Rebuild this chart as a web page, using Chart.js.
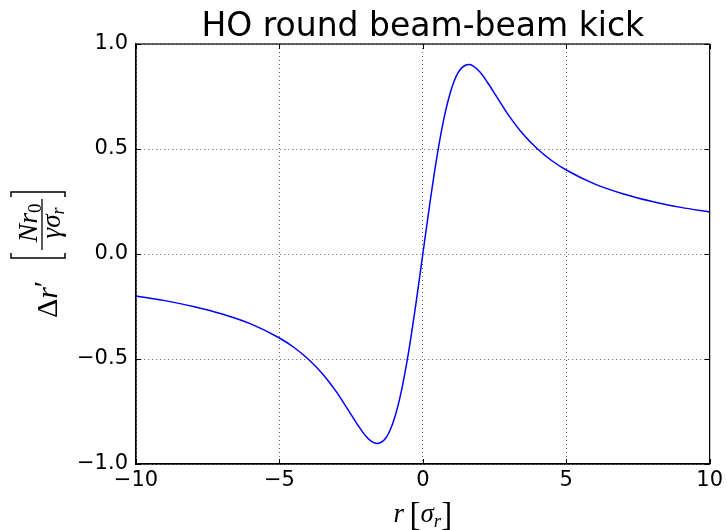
<!DOCTYPE html>
<html>
<head>
<meta charset="utf-8">
<title>HO round beam-beam kick</title>
<script src="https://cdn.jsdelivr.net/npm/chart.js@4"></script>
<style>
  html, body { margin: 0; padding: 0; background: #fff; }
  canvas { display: block; }
</style>
</head>
<body>
<canvas id="kick-chart" width="727" height="530"></canvas>
<script>
// separation r in units of sigma_r
const rVals = [-10, -9, -8, -7, -6, -5, -4.5, -4, -3.5, -3, -2.75, -2.5, -2.25, -2, -1.75, -1.6, -1.5, -1.25, -1, -0.75, -0.5, -0.25,
  0, 0.25, 0.5, 0.75, 1, 1.25, 1.5, 1.6, 1.75, 2, 2.25, 2.5, 2.75, 3, 3.5, 4, 4.5, 5, 6, 7, 8, 9, 10];
// kick
const kickVals = [-0.200, -0.222, -0.250, -0.286, -0.333, -0.400, -0.444, -0.500, -0.570, -0.659, -0.711, -0.765, -0.818, -0.865, -0.896, -0.902, -0.900, -0.868, -0.787, -0.654, -0.470, -0.246,
  0, 0.246, 0.470, 0.654, 0.787, 0.868, 0.900, 0.902, 0.896, 0.865, 0.818, 0.765, 0.711, 0.659, 0.570, 0.500, 0.444, 0.400, 0.333, 0.286, 0.250, 0.222, 0.200];
const xTicks = [-10, -5, 0, 5, 10];
const yTicks = [-1.0, -0.5, 0.0, 0.5, 1.0];

const chartTitle = 'HO round beam-beam kick';
const mathFont = '"Liberation Serif", "DejaVu Serif", serif';
const sansFont = '"DejaVu Sans", sans-serif';

const minus = s => s.replace('-', '\u2212');

// draw a row of text pieces [text, font, yOffset] starting at x (or centred on x)
function drawPieces(ctx, pieces, x, y, center) {
  let total = 0;
  pieces.forEach(p => { ctx.font = p[1]; total += ctx.measureText(p[0]).width; });
  let cx = center ? x - total / 2 : x;
  pieces.forEach(p => {
    ctx.font = p[1];
    ctx.fillText(p[0], cx, y + (p[2] || 0));
    cx += ctx.measureText(p[0]).width;
  });
}

const axisExtras = {
  id: 'axisExtras',
  afterDraw(chart) {
    const ctx = chart.ctx;
    const area = chart.chartArea;
    const xs = chart.scales.x, ys = chart.scales.y;
    ctx.save();

    // solid frame around the axes
    ctx.strokeStyle = '#000';
    ctx.lineWidth = 1.2;
    ctx.setLineDash([]);
    ctx.strokeRect(area.left, area.top, area.right - area.left, area.bottom - area.top);

    // inward tick marks on all four sides
    ctx.lineWidth = 1;
    ctx.beginPath();
    xTicks.forEach(v => {
      const px = Math.round(xs.getPixelForValue(v)) + 0.5;
      ctx.moveTo(px, area.bottom); ctx.lineTo(px, area.bottom - 5);
      ctx.moveTo(px, area.top); ctx.lineTo(px, area.top + 5);
    });
    yTicks.forEach(v => {
      const py = Math.round(ys.getPixelForValue(v)) + 0.5;
      ctx.moveTo(area.left, py); ctx.lineTo(area.left + 5, py);
      ctx.moveTo(area.right, py); ctx.lineTo(area.right - 5, py);
    });
    ctx.stroke();

    ctx.fillStyle = '#000';
    ctx.textBaseline = 'alphabetic';

    // title, centred over the axes
    ctx.font = '33px ' + sansFont;
    ctx.textAlign = 'center';
    ctx.fillText(chartTitle, (area.left + area.right) / 2, 36);
    ctx.textAlign = 'left';

    // x label: r [sigma_r]
    drawPieces(ctx, [
      ['r', 'italic 27px ' + mathFont, 0],
      ['\u2009', '27px ' + mathFont, 0],
      ['[', '33px ' + mathFont, 3],
      ['\u03c3', 'italic 27px ' + mathFont, 0],
      ['r', 'italic 19px ' + mathFont, 5],
      [']', '33px ' + mathFont, 3]
    ], (area.left + area.right) / 2, 522, true);

    // y label, rotated: Delta r' [ N r0 / gamma sigma_r ]
    ctx.rotate(-Math.PI / 2);
    drawPieces(ctx, [
      ['\u0394', '30px ' + mathFont, 0],
      ['r', 'italic 30px ' + mathFont, 0],
      ['\u2032', '28px ' + mathFont, -4]
    ], -318, 57, false);

    // bracket and fraction bar
    const bl = -258, br = -192, vTop = 11, vBot = 65;
    ctx.lineWidth = 1.5;
    ctx.beginPath();
    ctx.moveTo(bl + 5, vTop); ctx.lineTo(bl, vTop); ctx.lineTo(bl, vBot); ctx.lineTo(bl + 5, vBot);
    ctx.moveTo(br - 5, vTop); ctx.lineTo(br, vTop); ctx.lineTo(br, vBot); ctx.lineTo(br - 5, vBot);
    ctx.stroke();
    ctx.lineWidth = 1.3;
    ctx.beginPath();
    ctx.moveTo(-250, 42); ctx.lineTo(-199, 42);
    ctx.stroke();

    drawPieces(ctx, [
      ['N', 'italic 28px ' + mathFont, 0],
      ['r', 'italic 28px ' + mathFont, 0],
      ['0', '19px ' + mathFont, 4]
    ], -223, 37, true);
    drawPieces(ctx, [
      ['\u03b3', 'italic 27px ' + mathFont, 0],
      ['\u03c3', 'italic 27px ' + mathFont, 0],
      ['r', 'italic 18px ' + mathFont, 4]
    ], -223, 60, true);

    ctx.restore();
  }
};

new Chart(document.getElementById('kick-chart').getContext('2d'), {
  type: 'line',
  data: {
    datasets: [{
      data: rVals.map((r, i) => ({ x: r, y: kickVals[i] })),
      borderColor: '#0000ff',
      borderWidth: 1.5,
      pointRadius: 0,
      fill: false,
      cubicInterpolationMode: 'monotone'
    }]
  },
  options: {
    responsive: false,
    animation: false,
    layout: { padding: { left: 0, right: 15, top: 44, bottom: 0 } },
    plugins: {
      legend: { display: false },
      tooltip: { enabled: false },
      title: { display: false }
    },
    scales: {
      x: {
        type: 'linear',
        min: -10, max: 10,
        afterFit: s => { s.height = 66; },
        afterBuildTicks: s => { s.ticks = xTicks.map(v => ({ value: v })); },
        ticks: {
          color: '#000', padding: 4,
          font: { family: sansFont, size: 21 },
          callback: v => minus(String(v))
        },
        grid: { color: 'rgba(0,0,0,0.6)', lineWidth: 1, drawTicks: false },
        border: { display: true, color: '#000', width: 1.2, dash: [1, 3] }
      },
      y: {
        min: -1, max: 1,
        afterFit: s => { s.width = 136; },
        afterBuildTicks: s => { s.ticks = yTicks.map(v => ({ value: v })); },
        ticks: {
          color: '#000', padding: 8,
          font: { family: sansFont, size: 21 },
          callback: v => minus(v.toFixed(1))
        },
        grid: { color: 'rgba(0,0,0,0.6)', lineWidth: 1, drawTicks: false },
        border: { display: true, color: '#000', width: 1.2, dash: [1, 3] }
      }
    }
  },
  plugins: [axisExtras]
});
</script>
</body>
</html>
